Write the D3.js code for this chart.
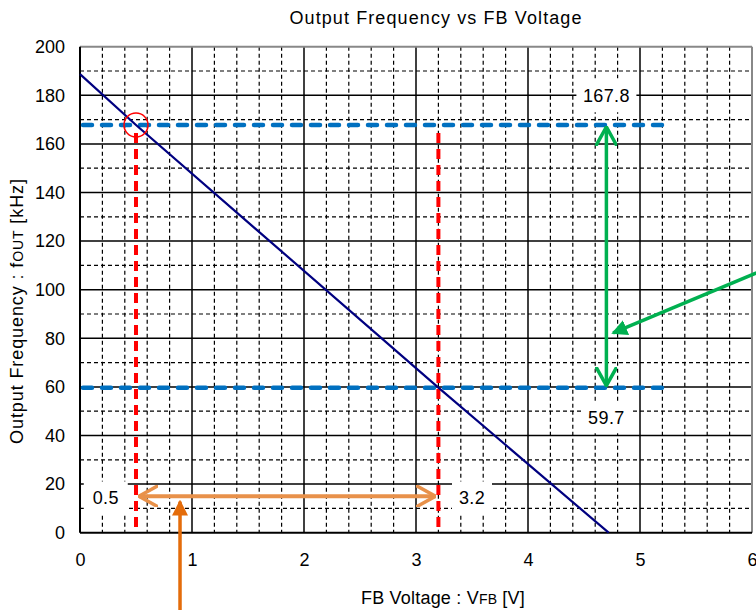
<!DOCTYPE html>
<html>
<head>
<meta charset="utf-8">
<script src="https://cdn.jsdelivr.net/npm/d3@7"></script>
<style>
  body { margin: 0; background: #fff; }
  svg { font-family: "Liberation Sans", Arial, sans-serif; }
</style>
</head>
<body>
<div id="chart"></div>
<script>
// data
const lineVoltage = [0, 0.5, 3.2, 4.72];      // V
const lineFreq = [188.7, 167.8, 59.7, 0];     // kHz
const freqMarks = [167.8, 59.7];              // blue dashed levels
const voltMarks = [0.5, 3.2];                 // red dashed levels
const freqLabels = ["167.8", "59.7"];
const voltLabels = ["0.5", "3.2"];
const xTicks = [0, 1, 2, 3, 4, 5, 6];
const yTicks = [0, 20, 40, 60, 80, 100, 120, 140, 160, 180, 200];

const W = 756, H = 610;
const x = d3.scaleLinear().domain([0, 6]).range([80, 752]);
const y = d3.scaleLinear().domain([0, 200]).range([532.7, 46.7]);

const svg = d3.select("#chart").append("svg")
    .attr("width", W)
    .attr("height", H);

const defs = svg.append("defs");
function openHead(id, color) {
  defs.append("marker")
      .attr("id", id)
      .attr("markerUnits", "userSpaceOnUse")
      .attr("viewBox", "0 0 20 22")
      .attr("refX", 19).attr("refY", 11)
      .attr("markerWidth", 20).attr("markerHeight", 22)
      .attr("orient", "auto-start-reverse")
      .append("path")
      .attr("d", "M1,1 L19,11 L1,21")
      .attr("fill", "none")
      .attr("stroke", color)
      .attr("stroke-width", 3.5)
      .attr("stroke-linecap", "round");
}
function solidHead(id, color) {
  defs.append("marker")
      .attr("id", id)
      .attr("markerUnits", "userSpaceOnUse")
      .attr("viewBox", "0 0 16 16")
      .attr("refX", 14).attr("refY", 8)
      .attr("markerWidth", 16).attr("markerHeight", 16)
      .attr("orient", "auto")
      .append("path")
      .attr("d", "M0,0 L16,8 L0,16 Z")
      .attr("fill", color);
}
openHead("gHead", "#00B050");
openHead("oHead", "#E8914A");
solidHead("gSolid", "#00B050");
solidHead("oSolid", "#E46C0A");

// grid
const minorX = d3.range(0, 6.01, 0.2).filter(v => Math.abs(v - Math.round(v)) > 0.01);
const minorY = d3.range(10, 200, 20);
const grid = svg.append("g");
grid.selectAll(".mx").data(minorX).enter().append("line")
    .attr("x1", d => x(d)).attr("x2", d => x(d))
    .attr("y1", y(200)).attr("y2", y(0))
    .attr("stroke", "#000").attr("stroke-width", 1.2).attr("stroke-dasharray", "4,3");
grid.selectAll(".my").data(minorY).enter().append("line")
    .attr("x1", x(0)).attr("x2", x(6))
    .attr("y1", d => y(d)).attr("y2", d => y(d))
    .attr("stroke", "#000").attr("stroke-width", 1.2).attr("stroke-dasharray", "4,3");
grid.selectAll(".Mx").data(xTicks.slice(1, -1)).enter().append("line")
    .attr("x1", d => x(d)).attr("x2", d => x(d))
    .attr("y1", y(200)).attr("y2", y(0))
    .attr("stroke", "#000").attr("stroke-width", 1.5);
grid.selectAll(".My").data(yTicks.slice(1, -1)).enter().append("line")
    .attr("x1", x(0)).attr("x2", x(6))
    .attr("y1", d => y(d)).attr("y2", d => y(d))
    .attr("stroke", "#000").attr("stroke-width", 1.5);

// frame: top/right grey, left/bottom black
svg.append("line").attr("x1", x(0)).attr("x2", x(6)).attr("y1", y(200)).attr("y2", y(200))
    .attr("stroke", "#888").attr("stroke-width", 2);
svg.append("line").attr("x1", x(6)).attr("x2", x(6)).attr("y1", y(200)).attr("y2", y(0))
    .attr("stroke", "#888").attr("stroke-width", 2);
svg.append("line").attr("x1", x(0)).attr("x2", x(0)).attr("y1", y(200)).attr("y2", y(0))
    .attr("stroke", "#000").attr("stroke-width", 2);
svg.append("line").attr("x1", x(0)).attr("x2", x(6)).attr("y1", y(0)).attr("y2", y(0))
    .attr("stroke", "#000").attr("stroke-width", 2);

// axes labels
const yAxis = svg.append("g")
    .attr("transform", `translate(${x(0)},0)`)
    .call(d3.axisLeft(y).tickValues(yTicks).tickSize(0).tickPadding(15));
const xAxis = svg.append("g")
    .attr("transform", `translate(0,${y(0)})`)
    .call(d3.axisBottom(x).tickValues(xTicks).tickSize(0).tickPadding(21).tickFormat(d3.format("d")));
[xAxis, yAxis].forEach(a => {
  a.select(".domain").remove();
  a.selectAll("text").attr("font-size", 18).attr("fill", "#000")
      .attr("font-family", "'Liberation Sans', Arial, sans-serif");
});

// white label boxes over the grid
const boxes = [
  {t: freqLabels[0], cx: 4.7, cy: 180, w: 60, h: 34},
  {t: freqLabels[1], cx: 4.7, cy: 47.5, w: 48, h: 32},
  {t: voltLabels[0], cx: 0.23, cy: 14.5, w: 44, h: 32},
  {t: voltLabels[1], cx: 3.5, cy: 14.5, w: 40, h: 32}
];
const lab = svg.append("g");
lab.selectAll("rect").data(boxes).enter().append("rect")
    .attr("x", d => x(d.cx) - d.w / 2).attr("y", d => y(d.cy) - d.h / 2)
    .attr("width", d => d.w).attr("height", d => d.h)
    .attr("fill", "#fff");
lab.selectAll("text").data(boxes).enter().append("text")
    .attr("x", d => x(d.cx)).attr("y", d => y(d.cy))
    .attr("dy", "0.36em")
    .attr("text-anchor", "middle")
    .attr("font-size", 18)
    .attr("letter-spacing", 0.4)
    .text(d => d.t);

// blue dashed levels
svg.selectAll(".blue").data(freqMarks).enter().append("line")
    .attr("x1", x(0) + 3).attr("x2", x(5.2))
    .attr("y1", d => y(d)).attr("y2", d => y(d))
    .attr("stroke", "#0070C0").attr("stroke-width", 4.5)
    .attr("stroke-linecap", "round").attr("stroke-dasharray", "9,10");

// red dashed levels
svg.selectAll(".red").data(voltMarks).enter().append("line")
    .attr("x1", d => x(d)).attr("x2", d => x(d))
    .attr("y1", y(164.5)).attr("y2", y(0))
    .attr("stroke", "#FF0000").attr("stroke-width", 4)
    .attr("stroke-dasharray", "10,6");

// main characteristic line
const pts = lineVoltage.map((v, i) => [v, lineFreq[i]]);
svg.append("path")
    .datum(pts)
    .attr("d", d3.line().x(d => x(d[0])).y(d => y(d[1])))
    .attr("fill", "none").attr("stroke", "#000080").attr("stroke-width", 2.2);

// red circle at the upper crossing
svg.append("circle")
    .attr("cx", x(voltMarks[0])).attr("cy", y(freqMarks[0]))
    .attr("r", 12).attr("fill", "none").attr("stroke", "#FF0000").attr("stroke-width", 1.5);

// green double arrow between the two frequencies
svg.append("line")
    .attr("x1", x(4.7)).attr("x2", x(4.7))
    .attr("y1", y(freqMarks[0]) + 2).attr("y2", y(freqMarks[1]) - 2)
    .attr("stroke", "#00B050").attr("stroke-width", 3.5)
    .attr("marker-start", "url(#gHead)").attr("marker-end", "url(#gHead)");
// green pointer arrow
svg.append("line")
    .attr("x1", x(6.04)).attr("y1", y(106.9))
    .attr("x2", x(4.76)).attr("y2", y(82.2))
    .attr("stroke", "#00B050").attr("stroke-width", 3.5)
    .attr("marker-end", "url(#gSolid)");

// orange double arrow between the two voltages
svg.append("line")
    .attr("x1", x(voltMarks[0]) + 3).attr("x2", x(voltMarks[1]) - 3)
    .attr("y1", y(15)).attr("y2", y(15))
    .attr("stroke", "#E8914A").attr("stroke-width", 4)
    .attr("marker-start", "url(#oHead)").attr("marker-end", "url(#oHead)");
// orange pointer arrow
svg.append("line")
    .attr("x1", x(0.893)).attr("y1", H)
    .attr("x2", x(0.893)).attr("y2", y(12.8))
    .attr("stroke", "#E46C0A").attr("stroke-width", 3.5)
    .attr("marker-end", "url(#oSolid)");

// titles
svg.append("text")
    .attr("x", 436).attr("y", 24)
    .attr("text-anchor", "middle").attr("font-size", 18)
    .attr("letter-spacing", 1.1)
    .text("Output Frequency vs FB Voltage");

const xl = svg.append("text")
    .attr("x", 443).attr("y", 604)
    .attr("text-anchor", "middle").attr("font-size", 18)
    .attr("letter-spacing", 0.2);
xl.append("tspan").text("FB Voltage : V");
xl.append("tspan").attr("font-size", 14).text("FB");
xl.append("tspan").text(" [V]");

const yl = svg.append("text")
    .attr("transform", "translate(23,311) rotate(-90)")
    .attr("text-anchor", "middle").attr("font-size", 18)
    .attr("letter-spacing", 0.9);
yl.append("tspan").text("Output Frequency : f");
yl.append("tspan").attr("font-size", 14).text("OUT");
yl.append("tspan").text(" [kHz]");
</script>
</body>
</html>
